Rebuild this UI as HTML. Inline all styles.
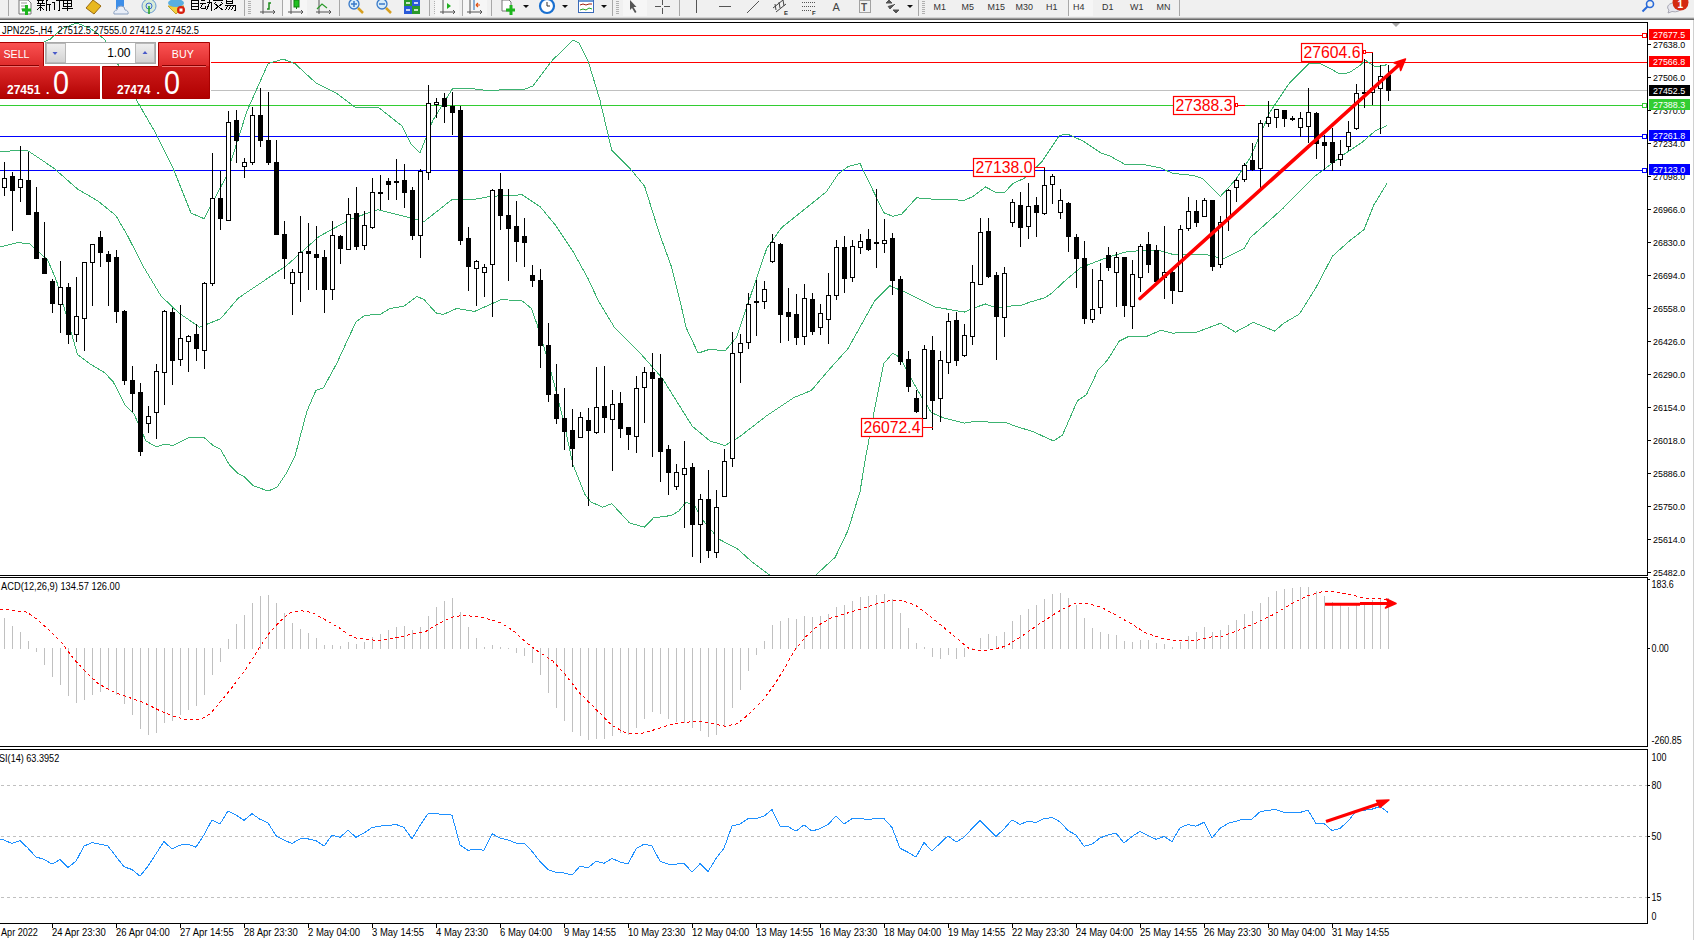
<!DOCTYPE html><html><head><meta charset="utf-8"><style>
html,body{margin:0;padding:0;background:#fff;width:1694px;height:940px;overflow:hidden;}
svg{position:absolute;left:0;top:0;display:block}
text{font-family:"Liberation Sans",sans-serif;}
</style></head><body>
<svg width="1694" height="940" viewBox="0 0 1694 940">
<defs>
<clipPath id="cm"><rect x="0" y="23" width="1647" height="552"/></clipPath>
<clipPath id="cd"><rect x="0" y="578" width="1647" height="168"/></clipPath>
<clipPath id="cr"><rect x="0" y="750" width="1647" height="173"/></clipPath>
<linearGradient id="gtab" x1="0" y1="0" x2="0" y2="1"><stop offset="0" stop-color="#fb5353"/><stop offset="1" stop-color="#de2b2b"/></linearGradient>
<linearGradient id="gbody" x1="0" y1="0" x2="0" y2="1"><stop offset="0" stop-color="#df2c2c"/><stop offset="1" stop-color="#b00000"/></linearGradient>
<linearGradient id="gspin" x1="0" y1="0" x2="0" y2="1"><stop offset="0" stop-color="#efefef"/><stop offset="1" stop-color="#d2d2d2"/></linearGradient>
</defs>
<rect x="0" y="0" width="1694" height="17" fill="#f0f0f0"/>
<rect x="0" y="17" width="1694" height="1" fill="#d4d4d4"/>
<rect x="0" y="18" width="1694" height="1" fill="#9a9a9a"/>
<rect x="0" y="19" width="1694" height="1" fill="#6a6a6a"/>
<g clip-path="url(#ctb)"><rect x="8" y="0" width="1" height="16" fill="#a8a8a8"/><rect x="244" y="0" width="1" height="16" fill="#a8a8a8"/><rect x="282" y="0" width="1" height="16" fill="#a8a8a8"/><rect x="339" y="0" width="1" height="16" fill="#a8a8a8"/><rect x="429" y="0" width="1" height="16" fill="#a8a8a8"/><rect x="462" y="0" width="1" height="16" fill="#a8a8a8"/><rect x="491" y="0" width="1" height="16" fill="#a8a8a8"/><rect x="612" y="0" width="1" height="16" fill="#a8a8a8"/><rect x="679" y="0" width="1" height="16" fill="#a8a8a8"/><rect x="918" y="0" width="1" height="16" fill="#a8a8a8"/><rect x="1068" y="0" width="1" height="16" fill="#a8a8a8"/><rect x="1179" y="0" width="1" height="16" fill="#a8a8a8"/><rect x="248" y="1" width="3" height="1" fill="#b0b0b0"/><rect x="248" y="3" width="3" height="1" fill="#b0b0b0"/><rect x="248" y="5" width="3" height="1" fill="#b0b0b0"/><rect x="248" y="7" width="3" height="1" fill="#b0b0b0"/><rect x="248" y="9" width="3" height="1" fill="#b0b0b0"/><rect x="248" y="11" width="3" height="1" fill="#b0b0b0"/><rect x="248" y="13" width="3" height="1" fill="#b0b0b0"/><rect x="434" y="1" width="3" height="1" fill="#b0b0b0"/><rect x="434" y="3" width="3" height="1" fill="#b0b0b0"/><rect x="434" y="5" width="3" height="1" fill="#b0b0b0"/><rect x="434" y="7" width="3" height="1" fill="#b0b0b0"/><rect x="434" y="9" width="3" height="1" fill="#b0b0b0"/><rect x="434" y="11" width="3" height="1" fill="#b0b0b0"/><rect x="434" y="13" width="3" height="1" fill="#b0b0b0"/><rect x="616" y="1" width="3" height="1" fill="#b0b0b0"/><rect x="616" y="3" width="3" height="1" fill="#b0b0b0"/><rect x="616" y="5" width="3" height="1" fill="#b0b0b0"/><rect x="616" y="7" width="3" height="1" fill="#b0b0b0"/><rect x="616" y="9" width="3" height="1" fill="#b0b0b0"/><rect x="616" y="11" width="3" height="1" fill="#b0b0b0"/><rect x="616" y="13" width="3" height="1" fill="#b0b0b0"/><rect x="922" y="1" width="3" height="1" fill="#b0b0b0"/><rect x="922" y="3" width="3" height="1" fill="#b0b0b0"/><rect x="922" y="5" width="3" height="1" fill="#b0b0b0"/><rect x="922" y="7" width="3" height="1" fill="#b0b0b0"/><rect x="922" y="9" width="3" height="1" fill="#b0b0b0"/><rect x="922" y="11" width="3" height="1" fill="#b0b0b0"/><rect x="922" y="13" width="3" height="1" fill="#b0b0b0"/><rect x="283" y="0" width="24" height="16" fill="#f6f6f6"/><rect x="435" y="0" width="24" height="16" fill="#f6f6f6"/><rect x="463" y="0" width="24" height="16" fill="#f6f6f6"/><rect x="623" y="0" width="24" height="16" fill="#f6f6f6"/><rect x="1069" y="0" width="24" height="16" fill="#f6f6f6"/><path d="M19 0h9l3 3v11h-12z" fill="#fff" stroke="#777" stroke-width="1"/><path d="M21 3h6M21 6h6M21 9h4" stroke="#999" stroke-width="1"/><path d="M26.5 5v10M22 10h9" stroke="#1db51d" stroke-width="3"/><g fill="none" stroke="#000" stroke-width="1" shape-rendering="crispEdges"><path d="M40.5 -2v2M37 0.5h7M38.5 1v2M42.5 1v2M37 3.5h8M37 5.5h8M40.5 3v8M40 7l-3 3M41 7l3 3"/><path d="M49.5 -1l-3 2M46.5 1v10M46 4.5h5M49.5 4v7"/><path d="M53 -1l1 1M52 2.5h2v6l1 1M56 0.5h7M59.5 0v10l-1.5 0"/><path d="M64.5 -2l1 2M70.5 -2l-1 2M63.5 0.5h8v6h-8zM63 3.5h9M67.5 0v11M62 8.5h11"/></g><path d="M86 8l7-8l8 6l-7 8z" fill="#e8b820" stroke="#9a6a10" stroke-width="1"/><rect x="116" y="0" width="8" height="9" fill="#3d8ee8"/><path d="M114 14a3 3 0 0 1 3-4a4 4 0 0 1 8 0a3 3 0 0 1 3 4z" fill="#e8eef8" stroke="#8aa0c0"/><circle cx="149" cy="6" r="7" fill="#d8ecd8" stroke="#6a9ad0"/><circle cx="149" cy="6" r="3" fill="none" stroke="#3a6ad0"/><path d="M149 6v8" stroke="#20a020" stroke-width="1.5"/><path d="M168 6h16l-8 8z" fill="#f0d040" stroke="#c0a030"/><ellipse cx="176" cy="3" rx="8" ry="4" fill="#5aaee0"/><circle cx="181" cy="10" r="4" fill="#d82010"/><rect x="179.5" y="8.5" width="3" height="3" fill="#fff"/><g fill="none" stroke="#000" stroke-width="1" shape-rendering="crispEdges"><path d="M194.5 -2v2M191.5 0.5h7v9h-7zM191.5 3.5h7M191.5 6.5h7"/><path d="M201 0.5h4M200 3.5h6M202.5 4l-2 4M201 8.5h5M205 6l1 2M207 2.5h4.5v7.5h-1M209.5 0v3l-3 7"/><path d="M218.5 -2v2M213 0.5h10M215.5 2l-1 2M221.5 2l1 2M214 10l8-6M215 4l8 6"/><path d="M226.5 -1.5h6v5h-6zM226.5 1h6M225 5.5h10v5h-1M227.5 6l-2 4M230.5 6l-2 4M233.5 6l-2 4"/></g><path d="M263 0v14M260 12h14" stroke="#555" stroke-width="1"/><path d="M273 10l2 2l-2 2" fill="none" stroke="#555"/><path d="M267 9h2V3h2" fill="none" stroke="#1a8a1a" stroke-width="1.5"/><path d="M291 0v14M288 12h14" stroke="#555" stroke-width="1"/><path d="M301 10l2 2l-2 2" fill="none" stroke="#555"/><rect x="294" y="0" width="5" height="7" fill="#20c020" stroke="#108010"/><path d="M296.5 7v2" stroke="#108010"/><path d="M319 0v14M316 12h14" stroke="#555" stroke-width="1"/><path d="M329 10l2 2l-2 2" fill="none" stroke="#555"/><path d="M317 9l5-5l5 4" fill="none" stroke="#2a9a2a" stroke-width="1.2"/><circle cx="354" cy="4" r="5" fill="#d8ecfa" stroke="#3a7ac8" stroke-width="1.3"/><path d="M351 4h6M354 1v6" stroke="#3a7ac8" stroke-width="1.5"/><path d="M358 8l5 5" stroke="#d8a020" stroke-width="2.5"/><circle cx="382" cy="4" r="5" fill="#d8ecfa" stroke="#3a7ac8" stroke-width="1.3"/><path d="M379 4h6" stroke="#3a7ac8" stroke-width="1.5"/><path d="M386 8l5 5" stroke="#d8a020" stroke-width="2.5"/><rect x="404" y="0" width="8" height="6" fill="#2a9a2a"/><rect x="412" y="0" width="8" height="6" fill="#2a5ad8"/><rect x="404" y="6" width="8" height="8" fill="#2a5ad8"/><rect x="412" y="6" width="8" height="8" fill="#2a9a2a"/><path d="M406 3h4M414 3h4M406 10h4M414 10h4" stroke="#fff" stroke-width="1.5"/><path d="M443 0v14M440 12h14" stroke="#555" stroke-width="1"/><path d="M453 10l2 2l-2 2" fill="none" stroke="#555"/><path d="M447 3l4 3l-4 3z" fill="#20b020"/><path d="M470 0v14M467 12h14" stroke="#555" stroke-width="1"/><path d="M480 10l2 2l-2 2" fill="none" stroke="#555"/><path d="M474 0v10" stroke="#2a6ab0"/><path d="M476 5h4M476 5l2-2M476 5l2 2" stroke="#e05010" stroke-width="1.2"/><path d="M502 0h7l2 2v9h-9z" fill="#fff" stroke="#777"/><path d="M511 5v10M506 10h9" stroke="#1db51d" stroke-width="3"/><path d="M523 5h6l-3 3z" fill="#111"/><path d="M562 5h6l-3 3z" fill="#111"/><path d="M601 5h6l-3 3z" fill="#111"/><circle cx="547" cy="6" r="7" fill="#fff" stroke="#1a70d0" stroke-width="2.2"/><path d="M547 2v4h3" fill="none" stroke="#333"/><rect x="578.5" y="0.5" width="15" height="12" fill="#fff" stroke="#3a6ab8"/><rect x="579" y="0" width="14" height="2" fill="#6a9ad8"/><path d="M580 5l3-1l3 1l3-1l3 0" fill="none" stroke="#a02010"/><path d="M580 10l3-1l3 1l3-2l3 1" fill="none" stroke="#20a020"/><path d="M630 0v10l2-2l3 5l1.5-1l-3-5h3z" fill="#555"/><path d="M655 6.5h6M664 6.5h6M662.5 0v5M662.5 8v6" stroke="#555" stroke-width="1"/><path d="M696.5 0v13" stroke="#555"/><path d="M719 6.5h12" stroke="#555"/><path d="M747 13l12-12" stroke="#555"/><path d="M773 8l10-8M776 12l10-8M775 4l1 6M779 2l1 6M783 0l1 6" stroke="#444" fill="none"/><text x="784" y="15" font-size="6" font-weight="bold" fill="#333">E</text><path d="M802 2.5h13M802 6.5h13M802 10.5h9" stroke="#555" stroke-dasharray="1 1"/><text x="812" y="15" font-size="6" font-weight="bold" fill="#333">F</text><text x="832.5" y="11" font-size="11" fill="#444">A</text><rect x="859.5" y="0.5" width="11" height="12" fill="none" stroke="#555" stroke-dasharray="1 1"/><text x="861" y="11" font-size="10" font-weight="bold" fill="#555">T</text><path d="M886 3l3-3l3 3zM893 10l3 3l3-3zM888 6l2 3l5-5" fill="#555" stroke="#555"/><path d="M907 5h6l-3 3z" fill="#111"/><text x="933.5" y="10.2" font-size="9.6" fill="#333" textLength="12.40" lengthAdjust="spacingAndGlyphs" >M1</text><text x="961.5" y="10.2" font-size="9.6" fill="#333" textLength="12.40" lengthAdjust="spacingAndGlyphs" >M5</text><text x="987.5" y="10.2" font-size="9.6" fill="#333" textLength="17.37" lengthAdjust="spacingAndGlyphs" >M15</text><text x="1015.5" y="10.2" font-size="9.6" fill="#333" textLength="17.37" lengthAdjust="spacingAndGlyphs" >M30</text><text x="1046" y="10.2" font-size="9.6" fill="#333" textLength="11.41" lengthAdjust="spacingAndGlyphs" >H1</text><text x="1073" y="10.2" font-size="9.6" fill="#333" textLength="11.41" lengthAdjust="spacingAndGlyphs" >H4</text><text x="1102" y="10.2" font-size="9.6" fill="#333" textLength="11.41" lengthAdjust="spacingAndGlyphs" >D1</text><text x="1130" y="10.2" font-size="9.6" fill="#333" textLength="13.39" lengthAdjust="spacingAndGlyphs" >W1</text><text x="1156.5" y="10.2" font-size="9.6" fill="#333" textLength="13.88" lengthAdjust="spacingAndGlyphs" >MN</text><circle cx="1650" cy="4" r="3.5" fill="none" stroke="#2a6ad8" stroke-width="1.6"/><path d="M1647.5 6.5l-5 5" stroke="#2a6ad8" stroke-width="2"/><path d="M1668 13l1-3a7 4.5 0 1 1 3 1.5z" fill="#e6e6ee" stroke="#a8a8b4"/><circle cx="1680.5" cy="2.5" r="8" fill="#d42a10"/><text x="1677.5" y="8" font-size="10" font-weight="bold" fill="#fff">1</text></g>
<clipPath id="ctb"><rect x="0" y="0" width="1694" height="17"/></clipPath>
<rect x="1693" y="20" width="1" height="920" fill="#d0d0d0"/>
<g shape-rendering="crispEdges" fill="#000">
<rect x="0" y="22" width="1648" height="1"/>
<rect x="1647" y="22" width="1" height="554"/>
<rect x="0" y="575" width="1648" height="1"/>
<rect x="0" y="577" width="1648" height="1"/>
<rect x="1647" y="577" width="1" height="170"/>
<rect x="0" y="746" width="1648" height="1"/>
<rect x="0" y="749" width="1648" height="1"/>
<rect x="1647" y="749" width="1" height="175"/>
<rect x="0" y="923" width="1648" height="1"/>
</g>
<g clip-path="url(#cm)"><g shape-rendering="crispEdges"><rect x="0" y="35" width="1642" height="1" fill="#ff0000"/><rect x="211" y="62" width="1436" height="1" fill="#ff0000"/><rect x="211" y="90" width="1436" height="1" fill="#c0c0c0"/><rect x="0" y="105" width="1642" height="1" fill="#32cd32"/><rect x="0" y="136" width="1642" height="1" fill="#0000ff"/><rect x="0" y="170" width="1642" height="1" fill="#0000ff"/></g><rect x="1642.5" y="33.5" width="4" height="4" fill="#fff" stroke="#ff0000" stroke-width="1"/><rect x="1642.5" y="103.5" width="4" height="4" fill="#fff" stroke="#32cd32" stroke-width="1"/><rect x="1642.5" y="134.5" width="4" height="4" fill="#fff" stroke="#0000ff" stroke-width="1"/><rect x="1642.5" y="168.5" width="4" height="4" fill="#fff" stroke="#0000ff" stroke-width="1"/><polyline fill="none" stroke="#3cb371" stroke-width="1" shape-rendering="crispEdges"  points="0,56 25,50 50,39.3 62,29 76,23 90,28 105,39.7 137,101 155,132 173,168 191,213 204,218.7 226,177 247,111 268,63.7 283,59 295,63.7 316,83 337,93.5 355,107 378,107 402,126 411,144 420,153 433,120 452.3,89 468.7,88.1 486.6,90.5 525.3,89 532.8,86 552,60.7 573,39.9 579,42.9 588,60.7 599.8,99.5 611.7,150 629.6,168 644.5,185.9 659.4,233.6 671.3,266.3 680,300.6 686.2,327.8 698.1,353.1 710,349.2 725,351 736.9,336.7 748.8,301 766.7,248.5 781.6,227.6 796.5,215.7 811.4,203.8 826.3,191.8 838.2,174 848,166.5 860,163.5 883.8,212.7 892.7,216.3 901.6,214.2 916.5,197.8 934.4,199.3 964.2,200.2 972.8,196.6 985.5,187 997.2,193 1004.7,192.3 1013.2,183.2 1023.8,178.5 1041.7,162 1059.6,135.2 1068.5,134.6 1083.4,141.2 1101.3,153.1 1110.2,156.1 1125,164.4 1146,165 1160.9,168 1172.8,173.4 1193.6,175.5 1202.6,178.4 1220.5,196.3 1235.4,179.9 1250,158 1270,112 1289.6,82.8 1309.4,63 1319.3,63 1329.2,68 1339.1,73.6 1349,72.9 1358.9,66.3 1365.5,60.4 1375.5,67 1387,64.7"/><polyline fill="none" stroke="#3cb371" stroke-width="1" shape-rendering="crispEdges"  points="0,151.6 26.8,150 53.6,168 77.5,189 98,201 116,215.7 128,236.5 143,266 161,296 178.8,312.9 199.6,327.2 220.5,318.8 238.4,298 286,266 319,236.5 351.6,218.7 378,209.7 402,215.7 424,221.6 452.3,199.3 474.7,199.3 491,196.3 522.3,194.8 540.2,206.7 555,224.6 573,251.4 587.9,278.3 598.3,300.6 614.7,327.8 641.5,354.6 662.4,378.4 692.2,426.1 710,441 725,445.5 739.9,436.5 766.7,415.7 793.5,397.8 811.4,390.4 829.2,369.5 848,348.6 874.8,300.6 889.7,285.7 907.6,293.2 934.4,306.9 964.3,312.1 972.8,308.3 985.5,304 997.2,308.3 1008.9,306.2 1021.7,305.1 1030.2,302 1045.1,297.7 1051.5,293.4 1064,281.7 1080.3,267.8 1107.2,257.4 1128,251.4 1157.9,250 1172.8,254.4 1205.6,254.4 1223.4,258.9 1244.3,248.5 1250,238 1283,208.3 1316,175.3 1342.4,155.5 1362.2,142.2 1375.5,130.7 1387,125.7"/><polyline fill="none" stroke="#3cb371" stroke-width="1" shape-rendering="crispEdges"  points="0,247 17.9,242.5 29.8,244 47.7,260 56.6,281 77.5,354.6 89.4,363.5 104.3,372.5 113,381.4 125,405 134,414 146,441 156.4,447 165,444 172.8,445.5 187.7,438 204,437.4 213,445.5 220.5,449.4 229.4,465 238.4,473.8 244.3,476.8 253.3,485.7 268.2,491 277,487.2 286,473.8 295,456 307,411 315.9,390.4 323.3,388 336.7,363.5 356,321.8 365,315.3 380,314.4 390.3,308.4 403.8,306.3 417,296.5 424,299.5 436,312.9 443.4,314.4 456.8,308.4 474.7,311.4 501.5,299.5 522.3,301 531.3,308.4 537.2,324.8 546.2,354.6 555.1,387.4 564,423 573,464.8 585,494.6 590.9,502 602.8,507.2 611.7,503.6 629.6,523 644.5,527.2 653.4,517.9 671.3,515.5 678.8,511 686.2,502 695.2,506.6 704,521.5 719,539.3 736.9,548.3 751.8,561.7 769.6,575 790,592 800,590 817.3,573.6 835.2,557.2 848,530.4 860,491.7 865.9,455.9 874.8,408.2 883.8,363.5 892.7,353.1 900.1,357.6 907.6,372.5 919.5,393.3 931.4,412.7 943.4,417.8 964.2,423.1 973.1,421.6 1005.9,422.5 1014.9,426.1 1032.7,431.5 1053.6,441 1062.5,435 1077.4,400.8 1086.4,394.8 1098.3,369.5 1107.2,360.5 1119.2,341.2 1128.1,336.7 1146,336.7 1160.9,330.2 1172.8,333.1 1196.6,332.2 1220.5,323.3 1235.4,332.2 1253.2,322.4 1274.8,331.1 1283,323.8 1299.5,313.9 1316,287.5 1332.5,256.1 1349,241.3 1363.9,229.7 1373.8,205 1387,183.5"/><g shape-rendering="crispEdges"><rect x="4" y="162" width="1" height="34" fill="#000"/><rect x="2.5" y="178.5" width="4" height="9" fill="#fff" stroke="#000" stroke-width="1"/><rect x="12" y="172" width="1" height="59" fill="#000"/><rect x="10" y="176" width="5" height="15" fill="#000"/><rect x="20" y="146" width="1" height="56" fill="#000"/><rect x="18.5" y="179.5" width="4" height="8" fill="#fff" stroke="#000" stroke-width="1"/><rect x="28" y="152" width="1" height="63" fill="#000"/><rect x="26" y="180" width="5" height="35" fill="#000"/><rect x="36" y="187" width="1" height="72" fill="#000"/><rect x="34" y="212" width="5" height="47" fill="#000"/><rect x="44" y="222" width="1" height="52" fill="#000"/><rect x="42" y="258" width="5" height="16" fill="#000"/><rect x="52" y="279" width="1" height="34" fill="#000"/><rect x="50" y="281" width="5" height="23" fill="#000"/><rect x="60" y="261" width="1" height="72" fill="#000"/><rect x="58.5" y="287.5" width="4" height="17" fill="#fff" stroke="#000" stroke-width="1"/><rect x="68" y="283" width="1" height="61" fill="#000"/><rect x="66" y="287" width="5" height="48" fill="#000"/><rect x="76" y="277" width="1" height="65" fill="#000"/><rect x="74.5" y="316.5" width="4" height="18" fill="#fff" stroke="#000" stroke-width="1"/><rect x="84" y="262" width="1" height="89" fill="#000"/><rect x="82.5" y="262.5" width="4" height="56" fill="#fff" stroke="#000" stroke-width="1"/><rect x="92" y="244" width="1" height="62" fill="#000"/><rect x="90.5" y="244.5" width="4" height="18" fill="#fff" stroke="#000" stroke-width="1"/><rect x="100" y="231" width="1" height="36" fill="#000"/><rect x="98" y="237" width="5" height="16" fill="#000"/><rect x="108" y="251" width="1" height="55" fill="#000"/><rect x="106" y="254" width="5" height="8" fill="#000"/><rect x="116" y="250" width="1" height="73" fill="#000"/><rect x="114" y="257" width="5" height="55" fill="#000"/><rect x="124" y="310" width="1" height="75" fill="#000"/><rect x="122" y="311" width="5" height="70" fill="#000"/><rect x="132" y="366" width="1" height="46" fill="#000"/><rect x="130" y="380" width="5" height="14" fill="#000"/><rect x="140" y="383" width="1" height="73" fill="#000"/><rect x="138" y="392" width="5" height="60" fill="#000"/><rect x="148" y="406" width="1" height="27" fill="#000"/><rect x="146.5" y="416.5" width="4" height="7" fill="#fff" stroke="#000" stroke-width="1"/><rect x="156" y="364" width="1" height="75" fill="#000"/><rect x="154.5" y="371.5" width="4" height="41" fill="#fff" stroke="#000" stroke-width="1"/><rect x="164" y="310" width="1" height="95" fill="#000"/><rect x="162.5" y="311.5" width="4" height="61" fill="#fff" stroke="#000" stroke-width="1"/><rect x="172" y="308" width="1" height="77" fill="#000"/><rect x="170" y="312" width="5" height="49" fill="#000"/><rect x="180" y="305" width="1" height="61" fill="#000"/><rect x="178.5" y="338.5" width="4" height="21" fill="#fff" stroke="#000" stroke-width="1"/><rect x="188" y="335" width="1" height="37" fill="#000"/><rect x="186.5" y="336.5" width="4" height="5" fill="#fff" stroke="#000" stroke-width="1"/><rect x="196" y="324" width="1" height="37" fill="#000"/><rect x="194" y="334" width="5" height="15" fill="#000"/><rect x="204" y="282" width="1" height="87" fill="#000"/><rect x="202.5" y="283.5" width="4" height="67" fill="#fff" stroke="#000" stroke-width="1"/><rect x="212" y="153" width="1" height="133" fill="#000"/><rect x="210.5" y="198.5" width="4" height="85" fill="#fff" stroke="#000" stroke-width="1"/><rect x="220" y="171" width="1" height="59" fill="#000"/><rect x="218" y="198" width="5" height="21" fill="#000"/><rect x="228" y="111" width="1" height="110" fill="#000"/><rect x="226.5" y="122.5" width="4" height="98" fill="#fff" stroke="#000" stroke-width="1"/><rect x="236" y="110" width="1" height="53" fill="#000"/><rect x="234" y="120" width="5" height="21" fill="#000"/><rect x="244" y="158" width="1" height="20" fill="#000"/><rect x="242.5" y="162.5" width="4" height="4" fill="#fff" stroke="#000" stroke-width="1"/><rect x="252" y="107" width="1" height="58" fill="#000"/><rect x="250.5" y="115.5" width="4" height="47" fill="#fff" stroke="#000" stroke-width="1"/><rect x="260" y="88" width="1" height="59" fill="#000"/><rect x="258" y="115" width="5" height="26" fill="#000"/><rect x="268" y="92" width="1" height="73" fill="#000"/><rect x="266" y="140" width="5" height="23" fill="#000"/><rect x="276" y="140" width="1" height="95" fill="#000"/><rect x="274" y="162" width="5" height="73" fill="#000"/><rect x="284" y="221" width="1" height="58" fill="#000"/><rect x="282" y="234" width="5" height="25" fill="#000"/><rect x="292" y="269" width="1" height="46" fill="#000"/><rect x="290.5" y="272.5" width="4" height="11" fill="#fff" stroke="#000" stroke-width="1"/><rect x="300" y="216" width="1" height="86" fill="#000"/><rect x="298.5" y="252.5" width="4" height="20" fill="#fff" stroke="#000" stroke-width="1"/><rect x="308" y="223" width="1" height="67" fill="#000"/><rect x="306" y="251" width="5" height="3" fill="#000"/><rect x="316" y="226" width="1" height="64" fill="#000"/><rect x="314" y="254" width="5" height="4" fill="#000"/><rect x="324" y="250" width="1" height="63" fill="#000"/><rect x="322" y="257" width="5" height="33" fill="#000"/><rect x="332" y="221" width="1" height="79" fill="#000"/><rect x="330.5" y="235.5" width="4" height="54" fill="#fff" stroke="#000" stroke-width="1"/><rect x="340" y="235" width="1" height="29" fill="#000"/><rect x="338" y="236" width="5" height="13" fill="#000"/><rect x="348" y="198" width="1" height="52" fill="#000"/><rect x="346.5" y="214.5" width="4" height="35" fill="#fff" stroke="#000" stroke-width="1"/><rect x="356" y="187" width="1" height="63" fill="#000"/><rect x="354" y="213" width="5" height="34" fill="#000"/><rect x="364" y="211" width="1" height="39" fill="#000"/><rect x="362.5" y="225.5" width="4" height="20" fill="#fff" stroke="#000" stroke-width="1"/><rect x="372" y="178" width="1" height="51" fill="#000"/><rect x="370.5" y="192.5" width="4" height="35" fill="#fff" stroke="#000" stroke-width="1"/><rect x="380" y="175" width="1" height="35" fill="#000"/><rect x="378" y="192" width="5" height="2" fill="#000"/><rect x="388" y="178" width="1" height="22" fill="#000"/><rect x="386" y="181" width="5" height="4" fill="#000"/><rect x="396" y="159" width="1" height="41" fill="#000"/><rect x="394" y="181" width="5" height="2" fill="#000"/><rect x="404" y="164" width="1" height="44" fill="#000"/><rect x="402" y="180" width="5" height="13" fill="#000"/><rect x="412" y="187" width="1" height="53" fill="#000"/><rect x="410" y="190" width="5" height="46" fill="#000"/><rect x="420" y="169" width="1" height="89" fill="#000"/><rect x="418.5" y="171.5" width="4" height="64" fill="#fff" stroke="#000" stroke-width="1"/><rect x="428" y="85" width="1" height="95" fill="#000"/><rect x="426.5" y="103.5" width="4" height="69" fill="#fff" stroke="#000" stroke-width="1"/><rect x="436" y="98" width="1" height="20" fill="#000"/><rect x="434.5" y="102.5" width="4" height="2" fill="#fff" stroke="#000" stroke-width="1"/><rect x="444" y="93" width="1" height="30" fill="#000"/><rect x="442" y="98" width="5" height="9" fill="#000"/><rect x="452" y="92" width="1" height="43" fill="#000"/><rect x="450" y="106" width="5" height="7" fill="#000"/><rect x="460" y="106" width="1" height="139" fill="#000"/><rect x="458" y="110" width="5" height="131" fill="#000"/><rect x="468" y="227" width="1" height="64" fill="#000"/><rect x="466" y="238" width="5" height="29" fill="#000"/><rect x="476" y="260" width="1" height="46" fill="#000"/><rect x="474.5" y="261.5" width="4" height="7" fill="#fff" stroke="#000" stroke-width="1"/><rect x="484" y="264" width="1" height="33" fill="#000"/><rect x="482.5" y="267.5" width="4" height="5" fill="#fff" stroke="#000" stroke-width="1"/><rect x="492" y="189" width="1" height="128" fill="#000"/><rect x="490.5" y="190.5" width="4" height="74" fill="#fff" stroke="#000" stroke-width="1"/><rect x="500" y="173" width="1" height="57" fill="#000"/><rect x="498" y="189" width="5" height="27" fill="#000"/><rect x="508" y="189" width="1" height="92" fill="#000"/><rect x="506" y="215" width="5" height="14" fill="#000"/><rect x="516" y="201" width="1" height="61" fill="#000"/><rect x="514" y="226" width="5" height="16" fill="#000"/><rect x="524" y="218" width="1" height="49" fill="#000"/><rect x="522" y="236" width="5" height="7" fill="#000"/><rect x="532" y="265" width="1" height="22" fill="#000"/><rect x="530" y="275" width="5" height="6" fill="#000"/><rect x="540" y="269" width="1" height="99" fill="#000"/><rect x="538" y="280" width="5" height="66" fill="#000"/><rect x="548" y="323" width="1" height="79" fill="#000"/><rect x="546" y="345" width="5" height="50" fill="#000"/><rect x="556" y="364" width="1" height="60" fill="#000"/><rect x="554" y="394" width="5" height="25" fill="#000"/><rect x="564" y="388" width="1" height="62" fill="#000"/><rect x="562" y="418" width="5" height="14" fill="#000"/><rect x="572" y="409" width="1" height="58" fill="#000"/><rect x="570" y="430" width="5" height="19" fill="#000"/><rect x="580" y="412" width="1" height="26" fill="#000"/><rect x="578.5" y="417.5" width="4" height="20" fill="#fff" stroke="#000" stroke-width="1"/><rect x="588" y="408" width="1" height="98" fill="#000"/><rect x="586" y="420" width="5" height="11" fill="#000"/><rect x="596" y="367" width="1" height="67" fill="#000"/><rect x="594.5" y="407.5" width="4" height="25" fill="#fff" stroke="#000" stroke-width="1"/><rect x="604" y="366" width="1" height="67" fill="#000"/><rect x="602" y="406" width="5" height="12" fill="#000"/><rect x="612" y="390" width="1" height="81" fill="#000"/><rect x="610.5" y="404.5" width="4" height="15" fill="#fff" stroke="#000" stroke-width="1"/><rect x="620" y="392" width="1" height="46" fill="#000"/><rect x="618" y="403" width="5" height="26" fill="#000"/><rect x="628" y="427" width="1" height="23" fill="#000"/><rect x="626" y="427" width="5" height="8" fill="#000"/><rect x="636" y="376" width="1" height="77" fill="#000"/><rect x="634.5" y="388.5" width="4" height="48" fill="#fff" stroke="#000" stroke-width="1"/><rect x="644" y="367" width="1" height="56" fill="#000"/><rect x="642.5" y="372.5" width="4" height="15" fill="#fff" stroke="#000" stroke-width="1"/><rect x="652" y="353" width="1" height="104" fill="#000"/><rect x="650" y="372" width="5" height="7" fill="#000"/><rect x="660" y="354" width="1" height="128" fill="#000"/><rect x="658" y="378" width="5" height="74" fill="#000"/><rect x="668" y="445" width="1" height="50" fill="#000"/><rect x="666" y="449" width="5" height="24" fill="#000"/><rect x="676" y="464" width="1" height="26" fill="#000"/><rect x="674.5" y="472.5" width="4" height="14" fill="#fff" stroke="#000" stroke-width="1"/><rect x="684" y="441" width="1" height="87" fill="#000"/><rect x="682.5" y="468.5" width="4" height="6" fill="#fff" stroke="#000" stroke-width="1"/><rect x="692" y="463" width="1" height="94" fill="#000"/><rect x="690" y="467" width="5" height="58" fill="#000"/><rect x="700" y="494" width="1" height="69" fill="#000"/><rect x="698.5" y="499.5" width="4" height="25" fill="#fff" stroke="#000" stroke-width="1"/><rect x="708" y="470" width="1" height="88" fill="#000"/><rect x="706" y="499" width="5" height="52" fill="#000"/><rect x="716" y="490" width="1" height="68" fill="#000"/><rect x="714.5" y="507.5" width="4" height="45" fill="#fff" stroke="#000" stroke-width="1"/><rect x="724" y="449" width="1" height="48" fill="#000"/><rect x="722.5" y="461.5" width="4" height="35" fill="#fff" stroke="#000" stroke-width="1"/><rect x="732" y="332" width="1" height="135" fill="#000"/><rect x="730.5" y="353.5" width="4" height="105" fill="#fff" stroke="#000" stroke-width="1"/><rect x="740" y="334" width="1" height="49" fill="#000"/><rect x="738.5" y="343.5" width="4" height="9" fill="#fff" stroke="#000" stroke-width="1"/><rect x="748" y="293" width="1" height="56" fill="#000"/><rect x="746.5" y="304.5" width="4" height="38" fill="#fff" stroke="#000" stroke-width="1"/><rect x="756" y="280" width="1" height="56" fill="#000"/><rect x="754" y="301" width="5" height="2" fill="#000"/><rect x="764" y="281" width="1" height="28" fill="#000"/><rect x="762.5" y="289.5" width="4" height="12" fill="#fff" stroke="#000" stroke-width="1"/><rect x="772" y="234" width="1" height="29" fill="#000"/><rect x="770.5" y="242.5" width="4" height="19" fill="#fff" stroke="#000" stroke-width="1"/><rect x="780" y="243" width="1" height="100" fill="#000"/><rect x="778" y="244" width="5" height="71" fill="#000"/><rect x="788" y="288" width="1" height="53" fill="#000"/><rect x="786" y="312" width="5" height="5" fill="#000"/><rect x="796" y="294" width="1" height="51" fill="#000"/><rect x="794" y="314" width="5" height="24" fill="#000"/><rect x="804" y="284" width="1" height="61" fill="#000"/><rect x="802.5" y="298.5" width="4" height="38" fill="#fff" stroke="#000" stroke-width="1"/><rect x="812" y="293" width="1" height="42" fill="#000"/><rect x="810" y="299" width="5" height="33" fill="#000"/><rect x="820" y="304" width="1" height="31" fill="#000"/><rect x="818.5" y="313.5" width="4" height="14" fill="#fff" stroke="#000" stroke-width="1"/><rect x="828" y="273" width="1" height="71" fill="#000"/><rect x="826.5" y="295.5" width="4" height="24" fill="#fff" stroke="#000" stroke-width="1"/><rect x="836" y="240" width="1" height="60" fill="#000"/><rect x="834.5" y="247.5" width="4" height="48" fill="#fff" stroke="#000" stroke-width="1"/><rect x="844" y="236" width="1" height="57" fill="#000"/><rect x="842" y="247" width="5" height="32" fill="#000"/><rect x="852" y="240" width="1" height="42" fill="#000"/><rect x="850.5" y="246.5" width="4" height="31" fill="#fff" stroke="#000" stroke-width="1"/><rect x="860" y="234" width="1" height="20" fill="#000"/><rect x="858.5" y="241.5" width="4" height="6" fill="#fff" stroke="#000" stroke-width="1"/><rect x="868" y="229" width="1" height="22" fill="#000"/><rect x="866" y="239" width="5" height="11" fill="#000"/><rect x="876" y="189" width="1" height="79" fill="#000"/><rect x="874" y="242" width="5" height="2" fill="#000"/><rect x="884" y="219" width="1" height="34" fill="#000"/><rect x="882.5" y="240.5" width="4" height="3" fill="#fff" stroke="#000" stroke-width="1"/><rect x="892" y="233" width="1" height="62" fill="#000"/><rect x="890" y="238" width="5" height="43" fill="#000"/><rect x="900" y="276" width="1" height="89" fill="#000"/><rect x="898" y="279" width="5" height="83" fill="#000"/><rect x="908" y="351" width="1" height="41" fill="#000"/><rect x="906" y="359" width="5" height="28" fill="#000"/><rect x="916" y="390" width="1" height="23" fill="#000"/><rect x="914" y="398" width="5" height="14" fill="#000"/><rect x="924" y="345" width="1" height="74" fill="#000"/><rect x="922.5" y="349.5" width="4" height="69" fill="#fff" stroke="#000" stroke-width="1"/><rect x="932" y="336" width="1" height="94" fill="#000"/><rect x="930" y="350" width="5" height="51" fill="#000"/><rect x="940" y="351" width="1" height="71" fill="#000"/><rect x="938.5" y="360.5" width="4" height="38" fill="#fff" stroke="#000" stroke-width="1"/><rect x="948" y="313" width="1" height="61" fill="#000"/><rect x="946.5" y="321.5" width="4" height="41" fill="#fff" stroke="#000" stroke-width="1"/><rect x="956" y="312" width="1" height="54" fill="#000"/><rect x="954" y="320" width="5" height="41" fill="#000"/><rect x="964" y="324" width="1" height="33" fill="#000"/><rect x="962.5" y="335.5" width="4" height="20" fill="#fff" stroke="#000" stroke-width="1"/><rect x="972" y="265" width="1" height="80" fill="#000"/><rect x="970.5" y="282.5" width="4" height="54" fill="#fff" stroke="#000" stroke-width="1"/><rect x="980" y="218" width="1" height="67" fill="#000"/><rect x="978.5" y="232.5" width="4" height="52" fill="#fff" stroke="#000" stroke-width="1"/><rect x="988" y="218" width="1" height="60" fill="#000"/><rect x="986" y="231" width="5" height="46" fill="#000"/><rect x="996" y="272" width="1" height="88" fill="#000"/><rect x="994" y="275" width="5" height="42" fill="#000"/><rect x="1004" y="267" width="1" height="70" fill="#000"/><rect x="1002.5" y="273.5" width="4" height="44" fill="#fff" stroke="#000" stroke-width="1"/><rect x="1012" y="199" width="1" height="28" fill="#000"/><rect x="1010.5" y="202.5" width="4" height="20" fill="#fff" stroke="#000" stroke-width="1"/><rect x="1020" y="192" width="1" height="55" fill="#000"/><rect x="1018" y="205" width="5" height="23" fill="#000"/><rect x="1028" y="183" width="1" height="56" fill="#000"/><rect x="1026.5" y="206.5" width="4" height="20" fill="#fff" stroke="#000" stroke-width="1"/><rect x="1036" y="197" width="1" height="40" fill="#000"/><rect x="1034" y="205" width="5" height="8" fill="#000"/><rect x="1044" y="167" width="1" height="48" fill="#000"/><rect x="1042.5" y="185.5" width="4" height="28" fill="#fff" stroke="#000" stroke-width="1"/><rect x="1052" y="174" width="1" height="30" fill="#000"/><rect x="1050.5" y="176.5" width="4" height="8" fill="#fff" stroke="#000" stroke-width="1"/><rect x="1060" y="189" width="1" height="30" fill="#000"/><rect x="1058.5" y="200.5" width="4" height="12" fill="#fff" stroke="#000" stroke-width="1"/><rect x="1068" y="202" width="1" height="50" fill="#000"/><rect x="1066" y="203" width="5" height="34" fill="#000"/><rect x="1076" y="234" width="1" height="54" fill="#000"/><rect x="1074" y="237" width="5" height="22" fill="#000"/><rect x="1084" y="241" width="1" height="83" fill="#000"/><rect x="1082" y="258" width="5" height="61" fill="#000"/><rect x="1092" y="269" width="1" height="54" fill="#000"/><rect x="1090.5" y="309.5" width="4" height="10" fill="#fff" stroke="#000" stroke-width="1"/><rect x="1100" y="263" width="1" height="51" fill="#000"/><rect x="1098.5" y="280.5" width="4" height="27" fill="#fff" stroke="#000" stroke-width="1"/><rect x="1108" y="247" width="1" height="24" fill="#000"/><rect x="1106" y="255" width="5" height="13" fill="#000"/><rect x="1116" y="252" width="1" height="55" fill="#000"/><rect x="1114.5" y="257.5" width="4" height="15" fill="#fff" stroke="#000" stroke-width="1"/><rect x="1124" y="257" width="1" height="60" fill="#000"/><rect x="1122" y="257" width="5" height="49" fill="#000"/><rect x="1132" y="260" width="1" height="69" fill="#000"/><rect x="1130.5" y="274.5" width="4" height="32" fill="#fff" stroke="#000" stroke-width="1"/><rect x="1140" y="244" width="1" height="48" fill="#000"/><rect x="1138.5" y="246.5" width="4" height="31" fill="#fff" stroke="#000" stroke-width="1"/><rect x="1148" y="232" width="1" height="41" fill="#000"/><rect x="1146" y="244" width="5" height="21" fill="#000"/><rect x="1156" y="245" width="1" height="38" fill="#000"/><rect x="1154" y="250" width="5" height="32" fill="#000"/><rect x="1164" y="226" width="1" height="73" fill="#000"/><rect x="1162.5" y="272.5" width="4" height="5" fill="#fff" stroke="#000" stroke-width="1"/><rect x="1172" y="270" width="1" height="34" fill="#000"/><rect x="1170" y="272" width="5" height="19" fill="#000"/><rect x="1180" y="225" width="1" height="67" fill="#000"/><rect x="1178.5" y="229.5" width="4" height="62" fill="#fff" stroke="#000" stroke-width="1"/><rect x="1188" y="197" width="1" height="34" fill="#000"/><rect x="1186.5" y="211.5" width="4" height="17" fill="#fff" stroke="#000" stroke-width="1"/><rect x="1196" y="200" width="1" height="27" fill="#000"/><rect x="1194" y="211" width="5" height="12" fill="#000"/><rect x="1204" y="198" width="1" height="19" fill="#000"/><rect x="1202.5" y="200.5" width="4" height="16" fill="#fff" stroke="#000" stroke-width="1"/><rect x="1212" y="200" width="1" height="71" fill="#000"/><rect x="1210" y="200" width="5" height="67" fill="#000"/><rect x="1220" y="216" width="1" height="52" fill="#000"/><rect x="1218.5" y="222.5" width="4" height="42" fill="#fff" stroke="#000" stroke-width="1"/><rect x="1228" y="189" width="1" height="42" fill="#000"/><rect x="1226.5" y="190.5" width="4" height="28" fill="#fff" stroke="#000" stroke-width="1"/><rect x="1236" y="178" width="1" height="24" fill="#000"/><rect x="1234.5" y="180.5" width="4" height="7" fill="#fff" stroke="#000" stroke-width="1"/><rect x="1244" y="163" width="1" height="19" fill="#000"/><rect x="1242.5" y="165.5" width="4" height="14" fill="#fff" stroke="#000" stroke-width="1"/><rect x="1252" y="143" width="1" height="28" fill="#000"/><rect x="1250" y="160" width="5" height="10" fill="#000"/><rect x="1260" y="120" width="1" height="70" fill="#000"/><rect x="1258.5" y="123.5" width="4" height="45" fill="#fff" stroke="#000" stroke-width="1"/><rect x="1268" y="101" width="1" height="26" fill="#000"/><rect x="1266.5" y="117.5" width="4" height="6" fill="#fff" stroke="#000" stroke-width="1"/><rect x="1276" y="109" width="1" height="19" fill="#000"/><rect x="1274.5" y="109.5" width="4" height="8" fill="#fff" stroke="#000" stroke-width="1"/><rect x="1284" y="110" width="1" height="17" fill="#000"/><rect x="1282" y="110" width="5" height="9" fill="#000"/><rect x="1292" y="116" width="1" height="5" fill="#000"/><rect x="1290" y="118" width="5" height="2" fill="#000"/><rect x="1300" y="112" width="1" height="25" fill="#000"/><rect x="1298.5" y="118.5" width="4" height="9" fill="#fff" stroke="#000" stroke-width="1"/><rect x="1308" y="88" width="1" height="55" fill="#000"/><rect x="1306.5" y="112.5" width="4" height="14" fill="#fff" stroke="#000" stroke-width="1"/><rect x="1316" y="112" width="1" height="47" fill="#000"/><rect x="1314" y="113" width="5" height="31" fill="#000"/><rect x="1324" y="135" width="1" height="35" fill="#000"/><rect x="1322" y="142" width="5" height="4" fill="#000"/><rect x="1332" y="128" width="1" height="43" fill="#000"/><rect x="1330" y="142" width="5" height="21" fill="#000"/><rect x="1340" y="140" width="1" height="26" fill="#000"/><rect x="1338.5" y="154.5" width="4" height="5" fill="#fff" stroke="#000" stroke-width="1"/><rect x="1348" y="121" width="1" height="30" fill="#000"/><rect x="1346.5" y="132.5" width="4" height="14" fill="#fff" stroke="#000" stroke-width="1"/><rect x="1356" y="84" width="1" height="46" fill="#000"/><rect x="1354.5" y="93.5" width="4" height="35" fill="#fff" stroke="#000" stroke-width="1"/><rect x="1364" y="59" width="1" height="49" fill="#000"/><rect x="1362.5" y="92.5" width="4" height="1" fill="#fff" stroke="#000" stroke-width="1"/><rect x="1372" y="52" width="1" height="53" fill="#000"/><rect x="1370.5" y="88.5" width="4" height="4" fill="#fff" stroke="#000" stroke-width="1"/><rect x="1380" y="65" width="1" height="69" fill="#000"/><rect x="1378.5" y="76.5" width="4" height="12" fill="#fff" stroke="#000" stroke-width="1"/><rect x="1388" y="65" width="1" height="36" fill="#000"/><rect x="1386" y="75" width="5" height="16" fill="#000"/></g><rect x="1301.5" y="43.5" width="61" height="18" fill="#fff" stroke="#ff0000" stroke-width="1.2"/><text x="1303.5" y="58" font-size="16.5" fill="#ff0000" textLength="57" lengthAdjust="spacingAndGlyphs">27604.6</text><path d="M1363 52.5 H1373" stroke="#ff0000" stroke-width="1" shape-rendering="crispEdges"/><rect x="1363.5" y="50.5" width="2" height="3" fill="#fff" stroke="#ff0000"/><rect x="1173.5" y="96.5" width="61" height="18" fill="#fff" stroke="#ff0000" stroke-width="1.2"/><text x="1175.5" y="111" font-size="16.5" fill="#ff0000" textLength="57" lengthAdjust="spacingAndGlyphs">27388.3</text><path d="M1235 105.5 H1245" stroke="#ff0000" stroke-width="1" shape-rendering="crispEdges"/><rect x="1235.5" y="103.5" width="2" height="3" fill="#fff" stroke="#ff0000"/><rect x="973.5" y="158.5" width="61" height="18" fill="#fff" stroke="#ff0000" stroke-width="1.2"/><text x="975.5" y="173" font-size="16.5" fill="#ff0000" textLength="57" lengthAdjust="spacingAndGlyphs">27138.0</text><path d="M1035 167.5 H1045" stroke="#ff0000" stroke-width="1" shape-rendering="crispEdges"/><rect x="861.5" y="418.5" width="61" height="18" fill="#fff" stroke="#ff0000" stroke-width="1.2"/><text x="863.5" y="433" font-size="16.5" fill="#ff0000" textLength="57" lengthAdjust="spacingAndGlyphs">26072.4</text><path d="M923 427.5 H933" stroke="#ff0000" stroke-width="1" shape-rendering="crispEdges"/><path d="M1140 298.5L1400 64" stroke="#ff0000" stroke-width="3.6" stroke-linecap="round"/><path d="M1405.5 59L1394 62.7L1399.5 65L1400.7 70.5z" fill="#ff0000" stroke="#ff0000" stroke-width="1.5" stroke-linejoin="round"/></g>
<text x="2" y="34" font-size="10" fill="#000" textLength="197" lengthAdjust="spacingAndGlyphs" xml:space="preserve">JPN225-,H4  27512.5 27555.0 27412.5 27452.5</text>
<path d="M1392 23h8l-4 4z" fill="#a8a8a8"/>
<rect x="0" y="42" width="44" height="24" fill="url(#gtab)"/><path d="M0 42.5H43.5V66" fill="none" stroke="#a80000" stroke-width="1"/><rect x="0" y="66" width="100" height="33" fill="url(#gbody)"/><path d="M100 42.5V99" stroke="#a00000" stroke-width="0"/><rect x="0" y="65" width="39" height="1" fill="#8a0000"/><rect x="0" y="66" width="39" height="1" fill="#f07070"/><path d="M158.5 42.5H209.5V98.5H102.5V66.5H158.5z" fill="url(#gbody)" stroke="#a80000" stroke-width="1"/><path d="M159 43H209V66H159z" fill="url(#gtab)"/><rect x="162" y="65" width="44" height="1" fill="#8a0000"/><rect x="162" y="66" width="44" height="1" fill="#f07070"/><rect x="0" y="98" width="100" height="1" fill="#a80000"/><rect x="45.5" y="42.5" width="110" height="21" fill="#fff" stroke="#a8a8a8" stroke-width="1"/><rect x="46.5" y="43.5" width="19" height="19" fill="url(#gspin)" stroke="#b8b8b8"/><rect x="135.5" y="43.5" width="19" height="19" fill="url(#gspin)" stroke="#b8b8b8"/><path d="M52.5 52h5l-2.5 3z" fill="#4a5ac8"/><path d="M142.5 54h5l-2.5-3z" fill="#4a5ac8"/><text x="130.5" y="57" font-size="12" fill="#000" text-anchor="end">1.00</text><text x="3.4" y="58.3" font-size="11.5" fill="#fff" textLength="26.16" lengthAdjust="spacingAndGlyphs" >SELL</text><text x="171.8" y="58.3" font-size="11.5" fill="#fff" textLength="21.99" lengthAdjust="spacingAndGlyphs" >BUY</text><text x="7" y="94" font-size="12" font-weight="bold" fill="#fff">27451</text><text x="46" y="94" font-size="12" font-weight="bold" fill="#fff">.</text><text x="53" y="94" font-size="33.5" fill="#fff" textLength="16.02" lengthAdjust="spacingAndGlyphs" >0</text><text x="117" y="94" font-size="12" font-weight="bold" fill="#fff">27474</text><text x="156.5" y="94" font-size="12" font-weight="bold" fill="#fff">.</text><text x="164" y="94" font-size="33.5" fill="#fff" textLength="16.02" lengthAdjust="spacingAndGlyphs" >0</text>
<g shape-rendering="crispEdges" fill="#000"><rect x="1648" y="44" width="3" height="1"/><rect x="1648" y="77" width="3" height="1"/><rect x="1648" y="110" width="3" height="1"/><rect x="1648" y="143" width="3" height="1"/><rect x="1648" y="176" width="3" height="1"/><rect x="1648" y="209" width="3" height="1"/><rect x="1648" y="242" width="3" height="1"/><rect x="1648" y="275" width="3" height="1"/><rect x="1648" y="308" width="3" height="1"/><rect x="1648" y="341" width="3" height="1"/><rect x="1648" y="374" width="3" height="1"/><rect x="1648" y="407" width="3" height="1"/><rect x="1648" y="440" width="3" height="1"/><rect x="1648" y="473" width="3" height="1"/><rect x="1648" y="506" width="3" height="1"/><rect x="1648" y="539" width="3" height="1"/><rect x="1648" y="572" width="3" height="1"/></g><text x="1653" y="48" font-size="9.6" fill="#000" textLength="32.17" lengthAdjust="spacingAndGlyphs" >27638.0</text><text x="1653" y="81" font-size="9.6" fill="#000" textLength="32.17" lengthAdjust="spacingAndGlyphs" >27506.0</text><text x="1653" y="114" font-size="9.6" fill="#000" textLength="32.17" lengthAdjust="spacingAndGlyphs" >27370.0</text><text x="1653" y="147" font-size="9.6" fill="#000" textLength="32.17" lengthAdjust="spacingAndGlyphs" >27234.0</text><text x="1653" y="180" font-size="9.6" fill="#000" textLength="32.17" lengthAdjust="spacingAndGlyphs" >27098.0</text><text x="1653" y="213" font-size="9.6" fill="#000" textLength="32.17" lengthAdjust="spacingAndGlyphs" >26966.0</text><text x="1653" y="246" font-size="9.6" fill="#000" textLength="32.17" lengthAdjust="spacingAndGlyphs" >26830.0</text><text x="1653" y="279" font-size="9.6" fill="#000" textLength="32.17" lengthAdjust="spacingAndGlyphs" >26694.0</text><text x="1653" y="312" font-size="9.6" fill="#000" textLength="32.17" lengthAdjust="spacingAndGlyphs" >26558.0</text><text x="1653" y="345" font-size="9.6" fill="#000" textLength="32.17" lengthAdjust="spacingAndGlyphs" >26426.0</text><text x="1653" y="378" font-size="9.6" fill="#000" textLength="32.17" lengthAdjust="spacingAndGlyphs" >26290.0</text><text x="1653" y="411" font-size="9.6" fill="#000" textLength="32.17" lengthAdjust="spacingAndGlyphs" >26154.0</text><text x="1653" y="444" font-size="9.6" fill="#000" textLength="32.17" lengthAdjust="spacingAndGlyphs" >26018.0</text><text x="1653" y="477" font-size="9.6" fill="#000" textLength="32.17" lengthAdjust="spacingAndGlyphs" >25886.0</text><text x="1653" y="510" font-size="9.6" fill="#000" textLength="32.17" lengthAdjust="spacingAndGlyphs" >25750.0</text><text x="1653" y="543" font-size="9.6" fill="#000" textLength="32.17" lengthAdjust="spacingAndGlyphs" >25614.0</text><text x="1653" y="576" font-size="9.6" fill="#000" textLength="32.17" lengthAdjust="spacingAndGlyphs" >25482.0</text><rect x="1649" y="29" width="41" height="11" fill="#ff0000"/><text x="1653" y="38" font-size="9.6" fill="#fff" textLength="32.17" lengthAdjust="spacingAndGlyphs" >27677.5</text><rect x="1649" y="56" width="41" height="11" fill="#ff0000"/><text x="1653" y="65" font-size="9.6" fill="#fff" textLength="32.17" lengthAdjust="spacingAndGlyphs" >27566.8</text><rect x="1649" y="85" width="41" height="11" fill="#000000"/><text x="1653" y="94" font-size="9.6" fill="#fff" textLength="32.17" lengthAdjust="spacingAndGlyphs" >27452.5</text><rect x="1649" y="99" width="41" height="11" fill="#32cd32"/><text x="1653" y="108" font-size="9.6" fill="#fff" textLength="32.17" lengthAdjust="spacingAndGlyphs" >27388.3</text><rect x="1649" y="130" width="41" height="11" fill="#0000ff"/><text x="1653" y="139" font-size="9.6" fill="#fff" textLength="32.17" lengthAdjust="spacingAndGlyphs" >27261.8</text><rect x="1649" y="164" width="41" height="11" fill="#0000ff"/><text x="1653" y="173" font-size="9.6" fill="#fff" textLength="32.17" lengthAdjust="spacingAndGlyphs" >27123.0</text>
<g clip-path="url(#cd)"><g shape-rendering="crispEdges" fill="#c0c0c0"><rect x="4" y="618" width="1" height="31"/><rect x="12" y="626" width="1" height="23"/><rect x="20" y="632" width="1" height="17"/><rect x="28" y="641" width="1" height="8"/><rect x="36" y="648" width="1" height="4"/><rect x="44" y="648" width="1" height="17"/><rect x="52" y="648" width="1" height="29"/><rect x="60" y="648" width="1" height="37"/><rect x="68" y="648" width="1" height="48"/><rect x="76" y="648" width="1" height="55"/><rect x="84" y="648" width="1" height="52"/><rect x="92" y="648" width="1" height="47"/><rect x="100" y="648" width="1" height="44"/><rect x="108" y="648" width="1" height="41"/><rect x="116" y="648" width="1" height="47"/><rect x="124" y="648" width="1" height="56"/><rect x="132" y="648" width="1" height="67"/><rect x="140" y="648" width="1" height="81"/><rect x="148" y="648" width="1" height="87"/><rect x="156" y="648" width="1" height="85"/><rect x="164" y="648" width="1" height="75"/><rect x="172" y="648" width="1" height="73"/><rect x="180" y="648" width="1" height="67"/><rect x="188" y="648" width="1" height="62"/><rect x="196" y="648" width="1" height="58"/><rect x="204" y="648" width="1" height="47"/><rect x="212" y="648" width="1" height="27"/><rect x="220" y="648" width="1" height="14"/><rect x="228" y="639" width="1" height="10"/><rect x="236" y="624" width="1" height="25"/><rect x="244" y="615" width="1" height="34"/><rect x="252" y="603" width="1" height="46"/><rect x="260" y="596" width="1" height="53"/><rect x="268" y="595" width="1" height="54"/><rect x="276" y="603" width="1" height="46"/><rect x="284" y="613" width="1" height="36"/><rect x="292" y="623" width="1" height="26"/><rect x="300" y="629" width="1" height="20"/><rect x="308" y="633" width="1" height="16"/><rect x="316" y="638" width="1" height="11"/><rect x="324" y="645" width="1" height="4"/><rect x="332" y="645" width="1" height="4"/><rect x="340" y="646" width="1" height="3"/><rect x="348" y="642" width="1" height="7"/><rect x="356" y="644" width="1" height="5"/><rect x="364" y="642" width="1" height="7"/><rect x="372" y="637" width="1" height="12"/><rect x="380" y="634" width="1" height="15"/><rect x="388" y="630" width="1" height="19"/><rect x="396" y="627" width="1" height="22"/><rect x="404" y="626" width="1" height="23"/><rect x="412" y="630" width="1" height="19"/><rect x="420" y="627" width="1" height="22"/><rect x="428" y="616" width="1" height="33"/><rect x="436" y="607" width="1" height="42"/><rect x="444" y="601" width="1" height="48"/><rect x="452" y="598" width="1" height="51"/><rect x="460" y="612" width="1" height="37"/><rect x="468" y="627" width="1" height="22"/><rect x="476" y="638" width="1" height="11"/><rect x="484" y="647" width="1" height="2"/><rect x="492" y="645" width="1" height="4"/><rect x="500" y="647" width="1" height="2"/><rect x="508" y="648" width="1" height="1"/><rect x="516" y="648" width="1" height="5"/><rect x="524" y="648" width="1" height="8"/><rect x="532" y="648" width="1" height="15"/><rect x="540" y="648" width="1" height="27"/><rect x="548" y="648" width="1" height="45"/><rect x="556" y="648" width="1" height="60"/><rect x="564" y="648" width="1" height="73"/><rect x="572" y="648" width="1" height="84"/><rect x="580" y="648" width="1" height="88"/><rect x="588" y="648" width="1" height="92"/><rect x="596" y="648" width="1" height="91"/><rect x="604" y="648" width="1" height="91"/><rect x="612" y="648" width="1" height="88"/><rect x="620" y="648" width="1" height="85"/><rect x="628" y="648" width="1" height="87"/><rect x="636" y="648" width="1" height="80"/><rect x="644" y="648" width="1" height="71"/><rect x="652" y="648" width="1" height="64"/><rect x="660" y="648" width="1" height="66"/><rect x="668" y="648" width="1" height="71"/><rect x="676" y="648" width="1" height="74"/><rect x="684" y="648" width="1" height="75"/><rect x="692" y="648" width="1" height="80"/><rect x="700" y="648" width="1" height="83"/><rect x="708" y="648" width="1" height="89"/><rect x="716" y="648" width="1" height="87"/><rect x="724" y="648" width="1" height="79"/><rect x="732" y="648" width="1" height="60"/><rect x="740" y="648" width="1" height="42"/><rect x="748" y="648" width="1" height="23"/><rect x="756" y="648" width="1" height="7"/><rect x="764" y="641" width="1" height="8"/><rect x="772" y="625" width="1" height="24"/><rect x="780" y="621" width="1" height="28"/><rect x="788" y="618" width="1" height="31"/><rect x="796" y="619" width="1" height="30"/><rect x="804" y="616" width="1" height="33"/><rect x="812" y="617" width="1" height="32"/><rect x="820" y="616" width="1" height="33"/><rect x="828" y="614" width="1" height="35"/><rect x="836" y="607" width="1" height="42"/><rect x="844" y="605" width="1" height="44"/><rect x="852" y="601" width="1" height="48"/><rect x="860" y="597" width="1" height="52"/><rect x="868" y="596" width="1" height="53"/><rect x="876" y="595" width="1" height="54"/><rect x="884" y="594" width="1" height="55"/><rect x="892" y="599" width="1" height="50"/><rect x="900" y="613" width="1" height="36"/><rect x="908" y="628" width="1" height="21"/><rect x="916" y="643" width="1" height="6"/><rect x="924" y="647" width="1" height="2"/><rect x="932" y="648" width="1" height="9"/><rect x="940" y="648" width="1" height="11"/><rect x="948" y="648" width="1" height="7"/><rect x="956" y="648" width="1" height="11"/><rect x="964" y="648" width="1" height="9"/><rect x="972" y="648" width="1" height="1"/><rect x="980" y="638" width="1" height="11"/><rect x="988" y="634" width="1" height="15"/><rect x="996" y="636" width="1" height="13"/><rect x="1004" y="632" width="1" height="17"/><rect x="1012" y="621" width="1" height="28"/><rect x="1020" y="615" width="1" height="34"/><rect x="1028" y="609" width="1" height="40"/><rect x="1036" y="605" width="1" height="44"/><rect x="1044" y="599" width="1" height="50"/><rect x="1052" y="594" width="1" height="55"/><rect x="1060" y="593" width="1" height="56"/><rect x="1068" y="598" width="1" height="51"/><rect x="1076" y="605" width="1" height="44"/><rect x="1084" y="618" width="1" height="31"/><rect x="1092" y="628" width="1" height="21"/><rect x="1100" y="632" width="1" height="17"/><rect x="1108" y="634" width="1" height="15"/><rect x="1116" y="635" width="1" height="14"/><rect x="1124" y="641" width="1" height="8"/><rect x="1132" y="642" width="1" height="7"/><rect x="1140" y="640" width="1" height="9"/><rect x="1148" y="640" width="1" height="9"/><rect x="1156" y="643" width="1" height="6"/><rect x="1164" y="644" width="1" height="5"/><rect x="1172" y="647" width="1" height="2"/><rect x="1180" y="642" width="1" height="7"/><rect x="1188" y="636" width="1" height="13"/><rect x="1196" y="632" width="1" height="17"/><rect x="1204" y="627" width="1" height="22"/><rect x="1212" y="632" width="1" height="17"/><rect x="1220" y="630" width="1" height="19"/><rect x="1228" y="625" width="1" height="24"/><rect x="1236" y="620" width="1" height="29"/><rect x="1244" y="614" width="1" height="35"/><rect x="1252" y="611" width="1" height="38"/><rect x="1260" y="603" width="1" height="46"/><rect x="1268" y="597" width="1" height="52"/><rect x="1276" y="591" width="1" height="58"/><rect x="1284" y="589" width="1" height="60"/><rect x="1292" y="588" width="1" height="61"/><rect x="1300" y="587" width="1" height="62"/><rect x="1308" y="587" width="1" height="62"/><rect x="1316" y="591" width="1" height="58"/><rect x="1324" y="596" width="1" height="53"/><rect x="1332" y="602" width="1" height="47"/><rect x="1340" y="603" width="1" height="46"/><rect x="1348" y="607" width="1" height="42"/><rect x="1356" y="603" width="1" height="46"/><rect x="1364" y="602" width="1" height="47"/><rect x="1372" y="600" width="1" height="49"/><rect x="1380" y="598" width="1" height="51"/><rect x="1388" y="598" width="1" height="51"/></g><polyline fill="none" stroke="#ff0000" stroke-width="1" shape-rendering="crispEdges" stroke-dasharray="3 3" points="0,609 26.9,612.1 37.2,619.4 49.6,630.7 62,643.1 74.4,659.6 86.8,673.1 99.2,684.4 115.7,692.7 130.2,697.9 144.6,703 159.1,710.3 173.6,716.5 186,719.6 200.4,719.6 210.7,713.4 221.1,701 233.5,685.5 245.9,669 258.3,649.3 268.6,633.8 278.9,622.5 289.3,613.2 299.6,610.5 312,612.5 324.4,619.4 338.8,627.6 348,634.4 356.3,638 372.8,640 381,640.6 397.6,637.3 414.1,633.8 426.5,631.1 436.8,624.5 451.3,617.3 463.7,615.2 484.4,617.9 500.9,622.9 513.3,630.7 525.7,642.1 538.1,651.4 552.5,660.7 564.9,674.1 579.4,692.7 595.9,709.2 612.5,725.8 626.9,733.6 641.4,733.6 653.8,729.9 668.2,725.3 682.7,722.7 696,721.2 708.4,722.7 724.9,726.2 737.3,723.7 749.7,713.4 762.1,701 774.5,684.4 784.8,667.9 795.2,649.3 805.5,636.9 817.9,625.6 830.3,618.3 844.8,613.8 861.3,609 877.8,603.4 892.3,600.1 902.6,600.8 915,604.9 927.4,614.2 943.9,627.6 956.3,638 968.7,648.3 981.1,651 991.5,649.7 1005.9,646.2 1022.4,635.9 1036.9,625.6 1046,619.6 1052.7,615.2 1061.5,609.8 1074.6,603.6 1087.7,603.6 1100.8,607.1 1116.1,615.2 1131.4,624 1146.7,633.4 1162,638.2 1177.2,640.8 1194.7,640.8 1210,637.1 1223.1,636 1240.6,629.4 1255.9,622.9 1273.4,614.6 1290.8,604.3 1306.1,596.2 1321.4,591.9 1336.7,591.9 1349.8,594.5 1362.9,597.8 1378.2,598.8 1388,599.3"/><path d="M1325 604.2H1360M1360 603.4H1390" stroke="#ff0000" stroke-width="3"/><path d="M1396 603.5L1386.5 599L1389 603.5L1385.5 608z" fill="#ff0000" stroke="#ff0000" stroke-width="1.6" stroke-linejoin="round"/></g><text x="1" y="590" font-size="10" fill="#000" textLength="118.91" lengthAdjust="spacingAndGlyphs" >ACD(12,26,9) 134.57 126.00</text><g shape-rendering="crispEdges" fill="#000"><rect x="1648" y="579" width="2" height="1"/><rect x="1648" y="648" width="2" height="1"/></g><text x="1651.5" y="588" font-size="10" fill="#000" textLength="22.27" lengthAdjust="spacingAndGlyphs" >183.6</text><text x="1651.5" y="652" font-size="10" fill="#000" textLength="17.32" lengthAdjust="spacingAndGlyphs" >0.00</text><text x="1651.5" y="744" font-size="10" fill="#000" textLength="30.18" lengthAdjust="spacingAndGlyphs" >-260.85</text>
<g clip-path="url(#cr)"><path d="M1 785.5H1647" stroke="#c0c0c0" stroke-width="1" stroke-dasharray="3 3" shape-rendering="crispEdges"/><path d="M1 836.5H1647" stroke="#c0c0c0" stroke-width="1" stroke-dasharray="3 3" shape-rendering="crispEdges"/><path d="M1 897.5H1647" stroke="#c0c0c0" stroke-width="1" stroke-dasharray="3 3" shape-rendering="crispEdges"/><polyline fill="none" stroke="#1e90ff" stroke-width="1" shape-rendering="crispEdges"  points="-4,838 4,840 12,843.5 20,840.6 28,848.2 36,857.1 44,859.2 52,864.1 60,859.6 68,867.4 76,861.2 84,846.1 92,842.6 100,844.1 108,846.1 116,856.5 124,866.8 132,869.5 140,876.1 148,866.2 156,853.8 164,841.4 172,849.2 180,845.1 188,844.1 196,847.2 204,834.8 212,819.9 220,824 228,811 236,815.1 244,820.3 252,813.7 260,819.3 268,822.8 276,835.8 284,840 292,843.5 300,838.9 308,838.9 316,840.6 324,846.1 332,835.2 340,837.3 348,830.2 356,837.3 364,833.1 372,827.5 380,826.1 388,825.5 396,824.4 404,827.5 412,838.9 420,825.5 428,813.7 436,813.7 444,814.5 452,815.1 460,845.1 468,850.3 476,849.2 484,850.3 492,833.7 500,837.9 508,840 516,843 524,843 532,851.3 540,861.6 548,869.5 556,872.4 564,873 572,875.1 580,866.2 588,867.8 596,861.2 604,863.3 612,858.5 620,862 628,864.1 636,848.8 644,844.1 652,846.1 660,861.2 668,864.1 676,864.1 684,863.3 692,872 700,863.7 708,871.6 716,858.5 724,848.2 732,826.1 740,824 748,818.7 756,818.7 764,816.2 772,809.6 780,826.1 788,826.5 796,831.1 804,824.9 812,831.1 820,828.6 828,824.4 836,816.2 844,824 852,818.7 860,818.7 868,819.3 876,818.7 884,818.7 892,827.5 900,848.2 908,852.3 916,857.1 924,842.6 932,850.9 940,843.5 948,835.8 956,842 964,837.3 972,828.6 980,820.7 988,828.6 996,836.4 1004,829 1012,819.9 1020,824.4 1028,821.3 1036,822.4 1044,818.7 1052,817.5 1060,821.8 1068,830.6 1076,834.9 1084,846.3 1092,844.1 1100,838 1108,834.9 1116,833.2 1124,843 1132,836.5 1140,831.4 1148,835.4 1156,839.3 1164,836.5 1172,841.5 1180,827.7 1188,824.5 1196,826.2 1204,822.3 1212,838 1220,828.4 1228,823.4 1236,821.2 1244,819 1252,819 1260,811.8 1268,810.3 1276,809.6 1284,812.4 1292,812.4 1300,812.4 1308,810.3 1316,823.4 1324,823.4 1332,830.6 1340,828.4 1348,821.2 1356,811.3 1364,810.3 1372,809.2 1380,806.5 1388,812.4"/><path d="M1326 821.5L1381 803" stroke="#ff0000" stroke-width="3.2"/><path d="M1389 800L1376.5 800.5L1380 807.5z" fill="#ff0000" stroke="#ff0000" stroke-width="1.5" stroke-linejoin="round"/></g><text x="-1" y="762" font-size="10" fill="#000" textLength="60.20" lengthAdjust="spacingAndGlyphs" >SI(14) 63.3952</text><g shape-rendering="crispEdges" fill="#000"><rect x="1648" y="785" width="2" height="1"/><rect x="1648" y="836" width="2" height="1"/><rect x="1648" y="897" width="2" height="1"/></g><text x="1651.5" y="761" font-size="10" fill="#000" textLength="14.85" lengthAdjust="spacingAndGlyphs" >100</text><text x="1651.5" y="789" font-size="10" fill="#000" textLength="9.90" lengthAdjust="spacingAndGlyphs" >80</text><text x="1651.5" y="840" font-size="10" fill="#000" textLength="9.90" lengthAdjust="spacingAndGlyphs" >50</text><text x="1651.5" y="901" font-size="10" fill="#000" textLength="9.90" lengthAdjust="spacingAndGlyphs" >15</text><text x="1651.5" y="920" font-size="10" fill="#000" textLength="4.95" lengthAdjust="spacingAndGlyphs" >0</text>
<g shape-rendering="crispEdges" fill="#000"><rect x="52" y="924" width="1" height="4"/><rect x="116" y="924" width="1" height="4"/><rect x="180" y="924" width="1" height="4"/><rect x="244" y="924" width="1" height="4"/><rect x="308" y="924" width="1" height="4"/><rect x="372" y="924" width="1" height="4"/><rect x="436" y="924" width="1" height="4"/><rect x="500" y="924" width="1" height="4"/><rect x="564" y="924" width="1" height="4"/><rect x="628" y="924" width="1" height="4"/><rect x="692" y="924" width="1" height="4"/><rect x="756" y="924" width="1" height="4"/><rect x="820" y="924" width="1" height="4"/><rect x="884" y="924" width="1" height="4"/><rect x="948" y="924" width="1" height="4"/><rect x="1012" y="924" width="1" height="4"/><rect x="1076" y="924" width="1" height="4"/><rect x="1140" y="924" width="1" height="4"/><rect x="1204" y="924" width="1" height="4"/><rect x="1268" y="924" width="1" height="4"/><rect x="1332" y="924" width="1" height="4"/></g><text x="1" y="936" font-size="10" fill="#000" textLength="36.93" lengthAdjust="spacingAndGlyphs" >Apr 2022</text><text x="52" y="936" font-size="10" fill="#000" textLength="53.70" lengthAdjust="spacingAndGlyphs" >24 Apr 23:30</text><text x="116" y="936" font-size="10" fill="#000" textLength="53.70" lengthAdjust="spacingAndGlyphs" >26 Apr 04:00</text><text x="180" y="936" font-size="10" fill="#000" textLength="53.70" lengthAdjust="spacingAndGlyphs" >27 Apr 14:55</text><text x="244" y="936" font-size="10" fill="#000" textLength="53.70" lengthAdjust="spacingAndGlyphs" >28 Apr 23:30</text><text x="308" y="936" font-size="10" fill="#000" textLength="52.11" lengthAdjust="spacingAndGlyphs" >2 May 04:00</text><text x="372" y="936" font-size="10" fill="#000" textLength="52.11" lengthAdjust="spacingAndGlyphs" >3 May 14:55</text><text x="436" y="936" font-size="10" fill="#000" textLength="52.11" lengthAdjust="spacingAndGlyphs" >4 May 23:30</text><text x="500" y="936" font-size="10" fill="#000" textLength="52.11" lengthAdjust="spacingAndGlyphs" >6 May 04:00</text><text x="564" y="936" font-size="10" fill="#000" textLength="52.11" lengthAdjust="spacingAndGlyphs" >9 May 14:55</text><text x="628" y="936" font-size="10" fill="#000" textLength="57.38" lengthAdjust="spacingAndGlyphs" >10 May 23:30</text><text x="692" y="936" font-size="10" fill="#000" textLength="57.38" lengthAdjust="spacingAndGlyphs" >12 May 04:00</text><text x="756" y="936" font-size="10" fill="#000" textLength="57.38" lengthAdjust="spacingAndGlyphs" >13 May 14:55</text><text x="820" y="936" font-size="10" fill="#000" textLength="57.38" lengthAdjust="spacingAndGlyphs" >16 May 23:30</text><text x="884" y="936" font-size="10" fill="#000" textLength="57.38" lengthAdjust="spacingAndGlyphs" >18 May 04:00</text><text x="948" y="936" font-size="10" fill="#000" textLength="57.38" lengthAdjust="spacingAndGlyphs" >19 May 14:55</text><text x="1012" y="936" font-size="10" fill="#000" textLength="57.38" lengthAdjust="spacingAndGlyphs" >22 May 23:30</text><text x="1076" y="936" font-size="10" fill="#000" textLength="57.38" lengthAdjust="spacingAndGlyphs" >24 May 04:00</text><text x="1140" y="936" font-size="10" fill="#000" textLength="57.38" lengthAdjust="spacingAndGlyphs" >25 May 14:55</text><text x="1204" y="936" font-size="10" fill="#000" textLength="57.38" lengthAdjust="spacingAndGlyphs" >26 May 23:30</text><text x="1268" y="936" font-size="10" fill="#000" textLength="57.38" lengthAdjust="spacingAndGlyphs" >30 May 04:00</text><text x="1332" y="936" font-size="10" fill="#000" textLength="57.38" lengthAdjust="spacingAndGlyphs" >31 May 14:55</text>
</svg></body></html>
